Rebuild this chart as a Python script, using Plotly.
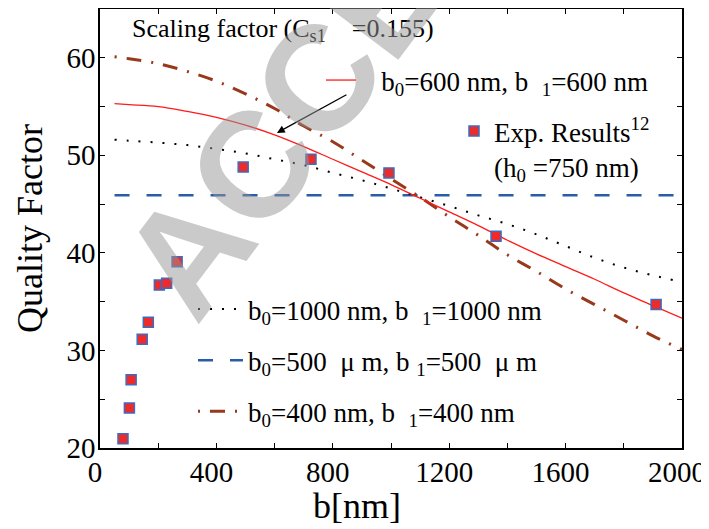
import plotly.graph_objects as go

# ---- data ----
b_grid = [50, 100, 200, 300, 400, 500, 600, 700, 800, 900, 1000,
          1100, 1200, 1300, 1400, 1500, 1600, 1700, 1800, 1900, 2000]
q_600 = [55.3, 55.2, 55.0, 54.5, 53.9, 53.1, 52.1, 50.9, 49.6, 48.3, 47.0,
         45.6, 44.2, 42.8, 41.3, 39.9, 38.6, 37.3, 35.9, 34.6, 33.3]
q_1000 = [51.6, 51.5, 51.3, 51.05, 50.65, 50.2, 49.6, 49.0, 48.2, 47.45, 46.6,
          45.7, 44.8, 43.85, 42.95, 41.9, 40.7, 39.5, 38.5, 37.7, 37.0]
q_400 = [60.1, 59.9, 59.4, 58.6, 57.6, 56.3, 54.8, 53.0, 51.4, 49.5, 47.6,
         45.7, 43.7, 41.8, 39.8, 38.1, 36.3, 34.7, 33.1, 31.5, 30.1]
b_500um = [50, 2000]
q_500um = [45.9, 45.9]
exp_b = [79, 101, 107, 145, 166, 204, 229, 265, 492, 725, 993, 1361, 1911]
exp_q = [20.95, 24.1, 27.0, 31.15, 32.9, 36.7, 36.9, 39.1, 48.8, 49.6, 48.2, 41.7, 34.7]

x_ticks = [0, 200, 400, 600, 800, 1000, 1200, 1400, 1600, 1800, 2000]
x_ticktext = ["0", "", "400", "", "800", "", "1200", "", "1600", "", "2000"]
y_ticks = [20, 25, 30, 35, 40, 45, 50, 55, 60]
y_ticktext = ["20", "", "30", "", "40", "", "50", "", "60"]

SERIF = "Liberation Serif, Times New Roman, serif"
NB = "\u00a0"

fig = go.Figure()

fig.add_trace(go.Scatter(
    x=b_500um, y=q_500um, mode="lines",
    name="b<sub>0</sub>=500" + NB + NB + "μ m, b" + NB + "<sub>1</sub>=500" + NB + NB + "μ m",
    line=dict(color="#2a5caa", width=2.5, dash="15px,17px"),
    legend="legend3", legendgroup="g2", legendrank=2))
fig.add_trace(go.Scatter(
    x=b_grid, y=q_1000, mode="lines", line_shape="spline",
    name="b<sub>0</sub>=1000 nm, b" + NB + NB + "<sub>1</sub>=1000 nm",
    line=dict(color="black", width=2, dash="2px,10px"),
    legend="legend3", legendgroup="g1", legendrank=1))
fig.add_trace(go.Scatter(
    x=b_grid, y=q_400, mode="lines", line_shape="spline",
    name="b<sub>0</sub>=400 nm, b" + NB + NB + "<sub>1</sub>=400 nm",
    line=dict(color="#98391b", width=3, dash="2px,10px,15px,10px"),
    legend="legend3", legendgroup="g3", legendrank=3))
fig.add_trace(go.Scatter(
    x=b_grid, y=q_600, mode="lines", line_shape="spline",
    name=NB * 3 + "b<sub>0</sub>=600 nm, b" + NB + NB + "<sub>1</sub>=600 nm",
    line=dict(color="#ff1a1a", width=1.3),
    legend="legend"))
fig.add_trace(go.Scatter(
    x=exp_b, y=exp_q, mode="markers",
    name="Exp. Results<sup>12</sup><br>(h<sub>0</sub>" + NB + "=750 nm)",
    marker=dict(symbol="square", size=10, color="#ee2b2b",
                line=dict(color="#3c6cc0", width=1.5)),
    legend="legend2"))

# arrow pointing to the b0=600 curve
fig.add_annotation(x=608, y=52.3, xref="x", yref="y", text="",
                   showarrow=True, arrowhead=2, arrowsize=1.2, arrowwidth=1.3,
                   arrowcolor="black", ax=71, ay=-39)

fig.add_annotation(xref="paper", yref="paper", x=(130 - 100) / 582, y=(448 - 12) / 439,
                   xanchor="left", yanchor="top", showarrow=False,
                   text="Scaling factor (C<sub>s1</sub>" + NB * 4 + "=0.155)",
                   font=dict(family=SERIF, size=26, color="black"))

# x axis title (placed left of centre, as in the reference)
fig.add_annotation(xref="paper", yref="paper", x=(357 - 100) / 582, y=(448 - 506) / 439,
                   xanchor="center", yanchor="middle", showarrow=False,
                   text="b[nm]", font=dict(family=SERIF, size=36, color="black"))

# watermark
fig.add_annotation(xref="paper", yref="paper", x=(403 - 100) / 582, y=(448 + 33) / 439,
                   xanchor="center", yanchor="middle", showarrow=False,
                   text="ACCEPTED", textangle=-53,
                   font=dict(family="Liberation Sans", size=150, weight="bold",
                             color="rgba(150,150,150,0.5)"))

legend_font = dict(family=SERIF, size=27, color="black")
# the page body has an 8px default margin, so the figure is 8px smaller than the window
fig.update_layout(
    width=701, height=521,
    margin=dict(l=92, r=27, t=1, b=81),
    paper_bgcolor="white", plot_bgcolor="white",
    showlegend=True,
    legend=dict(x=(321 - 100) / 582, y=(448 - 56) / 439, xanchor="left", yanchor="top",
                bgcolor="rgba(0,0,0,0)", font=legend_font, itemwidth=30),
    legend2=dict(x=(454 - 100) / 582, y=(448 - 107) / 439, xanchor="left", yanchor="top",
                 bgcolor="rgba(0,0,0,0)", font=legend_font, valign="top"),
    legend3=dict(x=(193 - 100) / 582, y=(448 - 285) / 439, xanchor="left", yanchor="top",
                 bgcolor="rgba(0,0,0,0)", font=legend_font, itemwidth=45,
                 tracegroupgap=13, traceorder="grouped"),
    xaxis=dict(range=[0, 2000], tickvals=x_ticks, ticktext=x_ticktext,
               ticks="inside", ticklen=5, tickwidth=1, tickcolor="black",
               showline=True, linecolor="black", linewidth=1.5, mirror="ticks",
               showgrid=False, zeroline=False, automargin=False,
               ticklabelshift=-5, ticklabelstandoff=-3,
               tickfont=dict(family=SERIF, size=29, color="black")),
    yaxis=dict(range=[20, 65], tickvals=y_ticks, ticktext=y_ticktext,
               ticks="inside", ticklen=5, tickwidth=1, tickcolor="black",
               showline=True, linecolor="black", linewidth=1.5, mirror="ticks",
               showgrid=False, zeroline=False, automargin=False,
               ticklabelstandoff=-3,
               tickfont=dict(family=SERIF, size=29, color="black"),
               title=dict(text="Quality Factor", font=dict(family=SERIF, size=36, color="black"),
                          standoff=13)),
)

fig.write_html("out.html")
